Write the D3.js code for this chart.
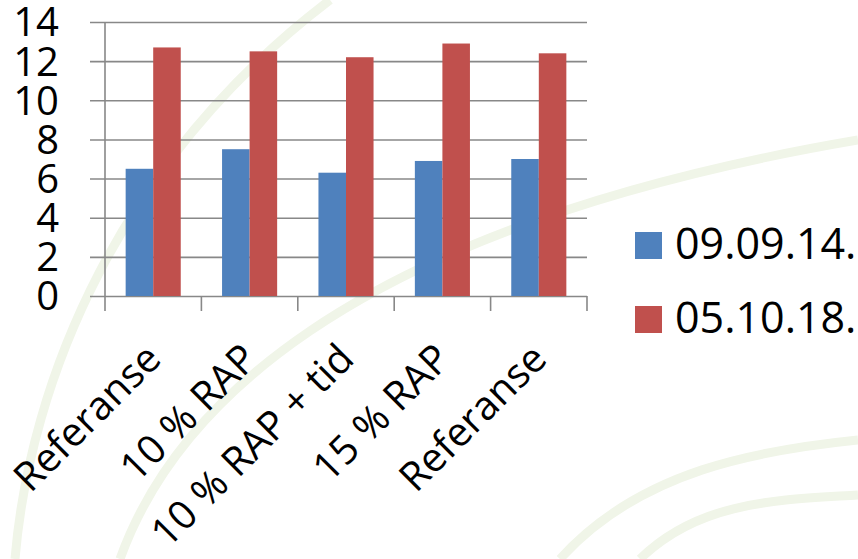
<!DOCTYPE html>
<html>
<head>
<meta charset="utf-8">
<script src="https://cdn.jsdelivr.net/npm/d3@7"></script>
<style>
  html, body { margin: 0; padding: 0; background: #ffffff; }
  #chart { width: 858px; height: 559px; }
  text { font-family: "Open Sans", "Noto Sans", sans-serif; fill: #000; }
</style>
</head>
<body>
<div id="chart"></div>
<script>
const categories = ['Referanse', '10 % RAP', '10 % RAP + tid', '15 % RAP', 'Referanse'];
const seriesNames = ['09.09.14.', '05.10.18.'];
const values0909 = [6.5, 7.5, 6.3, 6.9, 7.0];
const values0510 = [12.7, 12.5, 12.2, 12.9, 12.4];
const yTicks = [0, 2, 4, 6, 8, 10, 12, 14];
const colors = ['#4f81bd', '#c0504d'];

const width = 858, height = 559;
const plotLeft = 105, plotRight = 587, plotTop = 22, plotBottom = 296;

const svg = d3.select('#chart')
    .append('svg')
    .attr('width', width)
    .attr('height', height);

// faint background swirls of the slide
const bg = svg.append('g')
    .attr('fill', 'none')
    .attr('stroke', '#f0f5e8')
    .attr('stroke-width', 9);
bg.append('path').attr('d', 'M15,559 C30,380 120,160 330,0');
bg.append('path').attr('d', 'M120,559 C170,420 330,230 858,140');
bg.append('path').attr('d', 'M560,559 C640,470 760,450 858,440');
bg.append('path').attr('d', 'M640,559 C700,500 780,500 858,495');

const x = d3.scaleBand()
    .domain(d3.range(categories.length))
    .range([plotLeft, plotRight]);

const inner = d3.scaleBand()
    .domain([0, 1])
    .range([0, x.bandwidth()])
    .paddingInner(0)
    .paddingOuter(0.75);

const y = d3.scaleLinear()
    .domain([0, 14])
    .range([plotBottom, plotTop]);

// gridlines
const grid = svg.append('g')
    .attr('transform', `translate(${plotRight},0)`)
    .call(d3.axisLeft(y).tickValues(yTicks).tickSize(plotRight - plotLeft + 15).tickFormat(''));
grid.select('.domain').remove();
grid.selectAll('line').attr('stroke', '#888888').attr('stroke-width', 1.6);

// y labels
svg.append('g')
    .selectAll('text')
    .data(yTicks)
    .enter()
    .append('text')
    .attr('x', 59)
    .attr('y', d => y(d))
    .attr('dy', '0.36em')
    .attr('text-anchor', 'end')
    .style('font-size', '40px')
    .text(d => d);

// bars
const series = [values0909, values0510];
const groups = svg.append('g')
    .selectAll('g')
    .data(series)
    .enter()
    .append('g')
    .attr('fill', (d, i) => colors[i]);

groups.selectAll('rect')
    .data((d, si) => d.map((v, ci) => ({ v, ci, si })))
    .enter()
    .append('rect')
    .attr('x', d => x(d.ci) + inner(d.si))
    .attr('width', inner.bandwidth())
    .attr('y', d => y(d.v))
    .attr('height', d => y(0) - y(d.v));

// y axis line and category ticks
svg.append('line')
    .attr('x1', plotLeft).attr('x2', plotLeft)
    .attr('y1', plotTop).attr('y2', plotBottom)
    .attr('stroke', '#888888').attr('stroke-width', 1.6);

svg.append('g')
    .selectAll('line')
    .data(d3.range(categories.length + 1))
    .enter()
    .append('line')
    .attr('x1', i => plotLeft + i * x.step())
    .attr('x2', i => plotLeft + i * x.step())
    .attr('y1', plotBottom)
    .attr('y2', plotBottom + 15)
    .attr('stroke', '#888888').attr('stroke-width', 1.6);

// rotated category labels
svg.append('g')
    .selectAll('text')
    .data(categories)
    .enter()
    .append('text')
    .attr('transform', (d, i) => `translate(${x(i) + x.bandwidth() / 2 + 10},361) rotate(-45)`)
    .attr('text-anchor', 'end')
    .style('font-size', '40px')
    .text(d => d);

// legend
const legend = svg.append('g')
    .selectAll('g')
    .data(seriesNames)
    .enter()
    .append('g')
    .attr('transform', (d, i) => `translate(635,${232 + i * 74})`);

legend.append('rect')
    .attr('width', 27)
    .attr('height', 27)
    .attr('fill', (d, i) => colors[i]);

legend.append('text')
    .attr('x', 40)
    .attr('y', 27)
    .style('font-size', '43px')
    .text(d => d);
</script>
</body>
</html>
